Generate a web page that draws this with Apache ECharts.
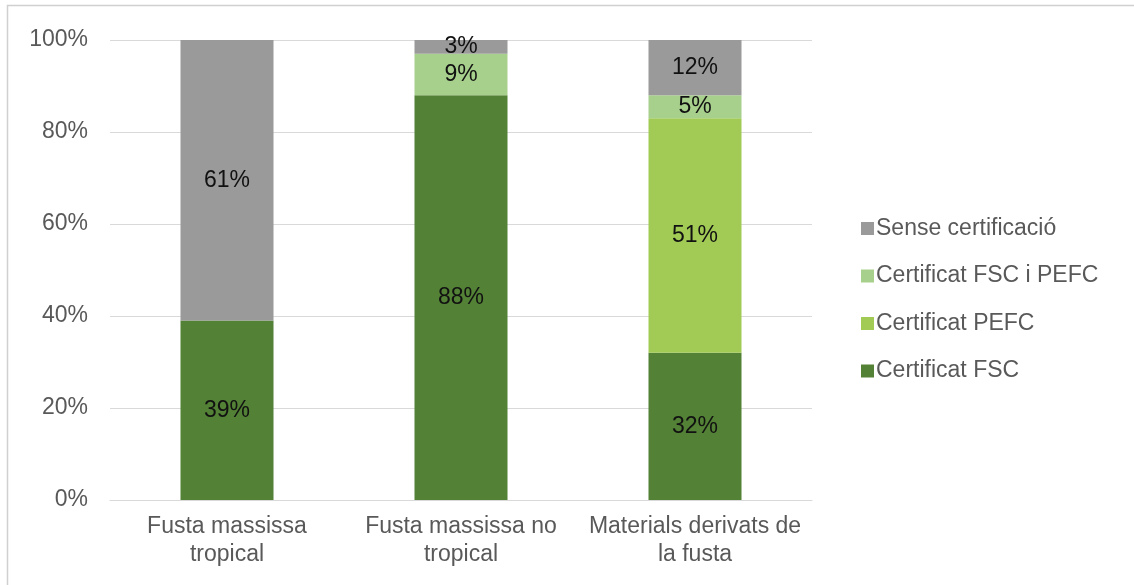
<!DOCTYPE html>
<html>
<head>
<meta charset="utf-8">
<script src="https://cdn.jsdelivr.net/npm/echarts@6/dist/echarts.min.js"></script>
<style>
  html, body { margin: 0; padding: 0; background: #fff; }
  #chart { width: 1134px; height: 585px; }
</style>
</head>
<body>
<div id="chart"></div>
<script>
var categories = ['Fusta massissa\ntropical', 'Fusta massissa no\ntropical', 'Materials derivats de\nla fusta'];
var seriesNames = ['Certificat FSC', 'Certificat PEFC', 'Certificat FSC i PEFC', 'Sense certificació'];
var fsc = [39, 88, 32];
var pefc = [0, 0, 51];
var fscPefc = [0, 9, 5];
var senseCert = [61, 3, 12];
var yTicks = [0, 20, 40, 60, 80, 100];

(function () {
    var myChart = echarts.init(document.getElementById('chart'));
    var colors = ['#538135', '#A2CB55', '#A8D08D', '#9A9A9A'];
    var values = [fsc, pefc, fscPefc, senseCert];

    var series = seriesNames.map(function (name, i) {
        return {
            name: name,
            type: 'bar',
            stack: 'total',
            barWidth: 93,
            data: values[i],
            itemStyle: { color: colors[i] },
            label: {
                show: true,
                position: 'inside',
                fontFamily: 'Liberation Sans',
                fontSize: 23,
                color: '#111',
                formatter: function (p) {
                    return p.value ? p.value + '%' : '';
                }
            }
        };
    });

    var option = {
        animation: false,
        graphic: [{
            type: 'rect',
            shape: { x: 7.5, y: 5.5, width: 1200, height: 700 },
            style: { fill: 'none', stroke: '#D0D0D0', lineWidth: 1.5 },
            silent: true
        }],
        grid: {
            left: 110,
            right: 322,
            top: 40,
            bottom: 85
        },
        legend: {
            orient: 'vertical',
            left: 856,
            top: 212,
            itemGap: 24.5,
            itemWidth: 13,
            itemHeight: 13,
            icon: 'rect',
            data: ['Sense certificació', 'Certificat FSC i PEFC', 'Certificat PEFC', 'Certificat FSC'],
            textStyle: {
                fontFamily: 'Liberation Sans',
                fontSize: 23,
                color: '#595959',
                padding: [0, 0, 0, -3]
            }
        },
        xAxis: {
            type: 'category',
            data: categories,
            axisLine: { lineStyle: { color: '#D9D9D9', width: 1 } },
            axisTick: { show: false },
            axisLabel: {
                interval: 0,
                fontFamily: 'Liberation Sans',
                fontSize: 23,
                color: '#595959',
                lineHeight: 28,
                margin: 13
            }
        },
        yAxis: {
            type: 'value',
            min: yTicks[0],
            max: yTicks[yTicks.length - 1],
            interval: 20,
            axisLine: { show: false },
            axisTick: { show: false },
            splitLine: { lineStyle: { color: '#D9D9D9', width: 1 } },
            axisLabel: {
                fontFamily: 'Liberation Sans',
                fontSize: 23,
                color: '#595959',
                margin: 22,
                formatter: '{value}%'
            }
        },
        series: series
    };

    myChart.setOption(option);

    window.addEventListener('resize', function () {
        myChart.resize();
    })
})()
</script>
</body>
</html>
